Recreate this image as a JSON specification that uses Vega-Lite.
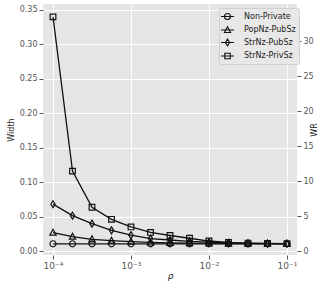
{
  "$schema": "https://vega.github.io/schema/vega-lite/v6.json",
  "autosize": "none",
  "width": 254,
  "height": 251,
  "padding": {"left": 43, "top": 4, "right": 35, "bottom": 32},
  "background": "white",
  "config": {
    "view": {"fill": "#e5e5e5", "stroke": null},
    "font": "DejaVu Sans",
    "axis": {
      "domain": false,
      "grid": true,
      "gridColor": "white",
      "gridWidth": 1,
      "tickColor": "#555555",
      "tickSize": 4,
      "labelColor": "#555555",
      "labelFontSize": 8,
      "labelPadding": 2,
      "titleFontSize": 8,
      "titleFontWeight": "normal",
      "titleColor": "#222222"
    }
  },
  "datasets": {
    "widths": [
      {"rho": 0.0001, "series": "Non-Private", "width": 0.0105},
      {"rho": 0.000177828, "series": "Non-Private", "width": 0.0105},
      {"rho": 0.000316228, "series": "Non-Private", "width": 0.0105},
      {"rho": 0.000562341, "series": "Non-Private", "width": 0.0105},
      {"rho": 0.001, "series": "Non-Private", "width": 0.0105},
      {"rho": 0.00177828, "series": "Non-Private", "width": 0.0105},
      {"rho": 0.00316228, "series": "Non-Private", "width": 0.0105},
      {"rho": 0.00562341, "series": "Non-Private", "width": 0.0105},
      {"rho": 0.01, "series": "Non-Private", "width": 0.0105},
      {"rho": 0.0177828, "series": "Non-Private", "width": 0.0105},
      {"rho": 0.0316228, "series": "Non-Private", "width": 0.0105},
      {"rho": 0.0562341, "series": "Non-Private", "width": 0.0105},
      {"rho": 0.1, "series": "Non-Private", "width": 0.0105},
      {"rho": 0.0001, "series": "PopNz-PubSz", "width": 0.0266},
      {"rho": 0.000177828, "series": "PopNz-PubSz", "width": 0.0208},
      {"rho": 0.000316228, "series": "PopNz-PubSz", "width": 0.0170},
      {"rho": 0.000562341, "series": "PopNz-PubSz", "width": 0.0150},
      {"rho": 0.001, "series": "PopNz-PubSz", "width": 0.0135},
      {"rho": 0.00177828, "series": "PopNz-PubSz", "width": 0.0124},
      {"rho": 0.00316228, "series": "PopNz-PubSz", "width": 0.0118},
      {"rho": 0.00562341, "series": "PopNz-PubSz", "width": 0.0114},
      {"rho": 0.01, "series": "PopNz-PubSz", "width": 0.0111},
      {"rho": 0.0177828, "series": "PopNz-PubSz", "width": 0.0109},
      {"rho": 0.0316228, "series": "PopNz-PubSz", "width": 0.0107},
      {"rho": 0.0562341, "series": "PopNz-PubSz", "width": 0.0106},
      {"rho": 0.1, "series": "PopNz-PubSz", "width": 0.0105},
      {"rho": 0.0001, "series": "StrNz-PubSz", "width": 0.0680},
      {"rho": 0.000177828, "series": "StrNz-PubSz", "width": 0.0513},
      {"rho": 0.000316228, "series": "StrNz-PubSz", "width": 0.0397},
      {"rho": 0.000562341, "series": "StrNz-PubSz", "width": 0.0300},
      {"rho": 0.001, "series": "StrNz-PubSz", "width": 0.0230},
      {"rho": 0.00177828, "series": "StrNz-PubSz", "width": 0.0180},
      {"rho": 0.00316228, "series": "StrNz-PubSz", "width": 0.0160},
      {"rho": 0.00562341, "series": "StrNz-PubSz", "width": 0.0140},
      {"rho": 0.01, "series": "StrNz-PubSz", "width": 0.0128},
      {"rho": 0.0177828, "series": "StrNz-PubSz", "width": 0.0118},
      {"rho": 0.0316228, "series": "StrNz-PubSz", "width": 0.0112},
      {"rho": 0.0562341, "series": "StrNz-PubSz", "width": 0.0108},
      {"rho": 0.1, "series": "StrNz-PubSz", "width": 0.0106},
      {"rho": 0.0001, "series": "StrNz-PrivSz", "width": 0.340},
      {"rho": 0.000177828, "series": "StrNz-PrivSz", "width": 0.116},
      {"rho": 0.000316228, "series": "StrNz-PrivSz", "width": 0.0635},
      {"rho": 0.000562341, "series": "StrNz-PrivSz", "width": 0.0460},
      {"rho": 0.001, "series": "StrNz-PrivSz", "width": 0.0350},
      {"rho": 0.00177828, "series": "StrNz-PrivSz", "width": 0.0270},
      {"rho": 0.00316228, "series": "StrNz-PrivSz", "width": 0.0225},
      {"rho": 0.00562341, "series": "StrNz-PrivSz", "width": 0.0185},
      {"rho": 0.01, "series": "StrNz-PrivSz", "width": 0.0145},
      {"rho": 0.0177828, "series": "StrNz-PrivSz", "width": 0.0125},
      {"rho": 0.0316228, "series": "StrNz-PrivSz", "width": 0.0115},
      {"rho": 0.0562341, "series": "StrNz-PrivSz", "width": 0.0110},
      {"rho": 0.1, "series": "StrNz-PrivSz", "width": 0.0107}
    ]
  },
  "data": {"name": "widths"},
  "encoding": {
    "x": {
      "field": "rho",
      "type": "quantitative",
      "scale": {"type": "log", "domain": [0.00007442, 0.13437], "nice": false},
      "axis": {
        "title": "ρ",
        "titleFontStyle": "italic",
        "titleFontSize": 9,
        "titlePadding": 1,
        "values": [0.0001, 0.001, 0.01, 0.1],
        "labelExpr": "datum.value < 0.0005 ? '10⁻⁴' : datum.value < 0.005 ? '10⁻³' : datum.value < 0.05 ? '10⁻²' : '10⁻¹'",
        "labelFontSize": 9
      }
    }
  },
  "layer": [
    {
      "encoding": {
        "y": {
          "field": "width",
          "type": "quantitative",
          "scale": {"domain": [-0.0058, 0.3587], "nice": false, "zero": false},
          "axis": {
            "title": "Width",
            "values": [0, 0.05, 0.1, 0.15, 0.2, 0.25, 0.3, 0.35],
            "format": ".2f",
            "titlePadding": 4,
            "orient": "left"
          }
        }
      },
      "layer": [
        {
          "mark": {"type": "line", "color": "#111111", "strokeWidth": 1.3},
          "encoding": {"detail": {"field": "series"}}
        },
        {
          "mark": {"type": "point", "filled": false, "stroke": "#111111", "strokeWidth": 1.2, "size": 40, "opacity": 1},
          "encoding": {
            "shape": {
              "field": "series",
              "type": "nominal",
              "scale": {
                "domain": ["Non-Private", "PopNz-PubSz", "StrNz-PubSz", "StrNz-PrivSz"],
                "range": [
                  "M0.95,0A0.95,0.95,0,1,1,-0.95,0A0.95,0.95,0,1,1,0.95,0Z",
                  "M0,-1.1L1,0.8L-1,0.8Z",
                  "M0,-1.1L0.7,0L0,1.1L-0.7,0Z",
                  "M-0.9,-0.9H0.9V0.9H-0.9Z"
                ]
              },
              "legend": null
            }
          }
        },
        {
          "mark": {"type": "point", "filled": false, "stroke": "#111111", "strokeWidth": 1, "opacity": 1},
          "encoding": {
            "y": {"field": "nothing", "type": "quantitative"},
            "shape": {
              "field": "series",
              "type": "nominal",
              "scale": {
                "domain": ["Non-Private", "PopNz-PubSz", "StrNz-PubSz", "StrNz-PrivSz"],
                "range": [
                  "M-1.3,0H1.3M0.6,0A0.6,0.6,0,1,1,-0.6,0A0.6,0.6,0,1,1,0.6,0Z",
                  "M-1.3,0H1.3M0,-0.65L0.62,0.5L-0.62,0.5Z",
                  "M-1.3,0H1.3M0,-0.7L0.42,0L0,0.7L-0.42,0Z",
                  "M-1.3,0H1.3M-0.55,-0.55H0.55V0.55H-0.55Z"
                ]
              },
              "legend": {
                "title": null,
                "orient": "none",
                "legendX": 176,
                "legendY": 4,
                "padding": 2.5,
                "fillColor": "#e8e8e8",
                "strokeColor": "#d0d0d0",
                "cornerRadius": 2,
                "symbolSize": 100,
                "symbolStrokeColor": "#111111",
                "symbolFillColor": "transparent",
                "symbolStrokeWidth": 1.1,
                "labelOffset": 10.5,
                "labelFontSize": 8,
                "labelColor": "#222222",
                "rowPadding": 1.5
              }
            }
          }
        }
      ],
      "resolve": {"scale": {"shape": "independent"}, "legend": {"shape": "independent"}}
    },
    {
      "mark": {"type": "point", "opacity": 0},
      "encoding": {
        "y": {
          "field": "width",
          "type": "quantitative",
          "scale": {"domain": [-0.571, 35.29], "nice": false, "zero": false},
          "axis": {
            "title": "WR",
            "orient": "right",
            "values": [0, 5, 10, 15, 20, 25, 30],
            "titleAngle": -90,
            "titlePadding": 5
          }
        }
      }
    }
  ],
  "resolve": {"scale": {"y": "independent"}}
}
